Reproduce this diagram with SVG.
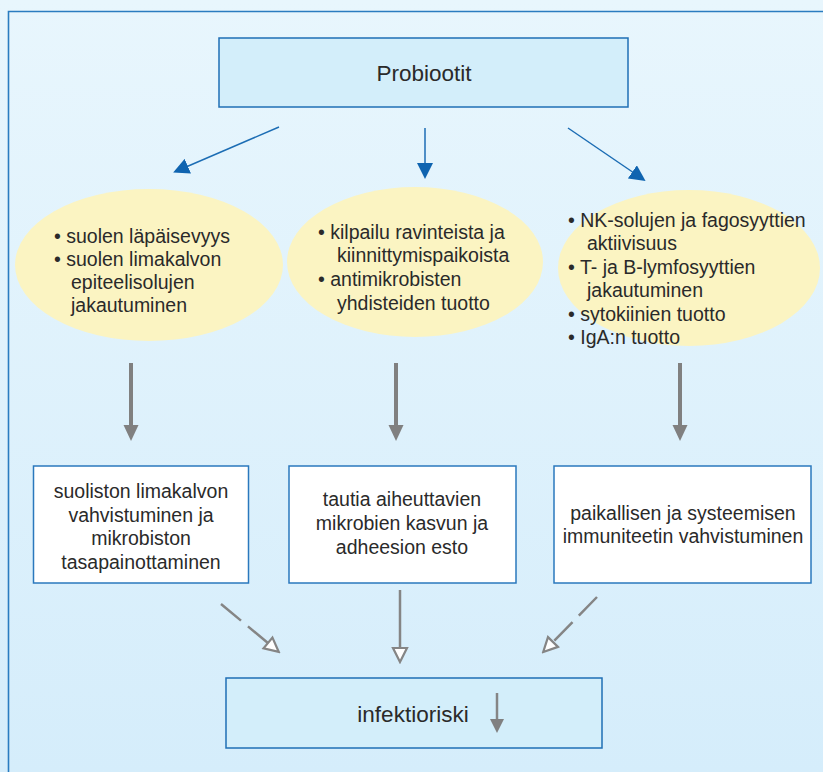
<svg xmlns="http://www.w3.org/2000/svg" width="823" height="772" viewBox="0 0 823 772">
<style>
text{font-family:"Liberation Sans",Arial,sans-serif;fill:#2a2a2a;}
.t{font-size:19.5px;}
.c{text-anchor:middle;}
.big{font-size:22.5px;}
.bluebox{fill:#d3eefa;stroke:#1f6fb5;stroke-width:1.5;}
.whitebox{fill:#ffffff;stroke:#2a78bd;stroke-width:1.5;}
.ell{fill:#fbf4c2;}
.blue{stroke:#1c6db4;stroke-width:1.5;fill:none;}
.gthick{stroke:#808080;stroke-width:4;fill:none;}
.gthin{stroke:#858585;stroke-width:2.5;fill:none;}
.dash{stroke-dasharray:26 9;}
</style>
<defs>
<linearGradient id="bg" x1="0" y1="0" x2="0" y2="1">
<stop offset="0" stop-color="#e8f6fd"/>
<stop offset="1" stop-color="#d5edfb"/>
</linearGradient>
<marker id="hb" viewBox="0 0 16 16" refX="2" refY="8" markerWidth="16" markerHeight="16" markerUnits="userSpaceOnUse" orient="auto">
<path d="M0,0 L16,8 L0,16 z" fill="#0f64b0"/>
</marker>
<marker id="hg" viewBox="0 0 16 16" refX="0" refY="8" markerWidth="16" markerHeight="16" markerUnits="userSpaceOnUse" orient="auto">
<path d="M0,0.5 L16,8 L0,15.5 z" fill="#808080"/>
</marker>
<marker id="ho" viewBox="-2 -2 18 18" refX="0" refY="7" markerWidth="18" markerHeight="18" markerUnits="userSpaceOnUse" orient="auto">
<path d="M0,0 L14,7 L0,14 z" fill="#ffffff" stroke="#858585" stroke-width="2.2"/>
</marker>
<marker id="hs" viewBox="0 0 14 14" refX="0" refY="7" markerWidth="14" markerHeight="14" markerUnits="userSpaceOnUse" orient="auto">
<path d="M0,0 L14,7 L0,14 z" fill="#808080"/>
</marker>
</defs>
<rect x="0" y="0" width="823" height="772" fill="url(#bg)"/>
<path d="M8.5,772 L8.5,11.5 L823,11.5" fill="none" stroke="#2a7cc0" stroke-width="1.6"/>

<g id="probiootit">
<rect class="bluebox" x="219" y="38" width="409" height="69"/>
<text class="big c" x="424" y="81">Probiootit</text>
</g>

<g id="ellipse-left">
<ellipse class="ell" cx="149" cy="265" rx="134" ry="76"/>
<text class="t" x="54" y="243">• suolen läpäisevyys</text>
<text class="t" x="54" y="266">• suolen limakalvon</text>
<text class="t" x="71" y="289">epiteelisolujen</text>
<text class="t" x="71" y="312">jakautuminen</text>
</g>

<g id="ellipse-middle">
<ellipse class="ell" cx="415" cy="262" rx="128" ry="75"/>
<text class="t" x="318" y="239">• kilpailu ravinteista ja</text>
<text class="t" x="337" y="262">kiinnittymispaikoista</text>
<text class="t" x="318" y="286">• antimikrobisten</text>
<text class="t" x="337" y="310">yhdisteiden tuotto</text>
</g>

<g id="ellipse-right">
<ellipse class="ell" cx="689" cy="268" rx="131" ry="78"/>
<text class="t" x="568" y="227">• NK-solujen ja fagosyyttien</text>
<text class="t" x="587" y="250">aktiivisuus</text>
<text class="t" x="568" y="274">• T- ja B-lymfosyyttien</text>
<text class="t" x="587" y="297">jakautuminen</text>
<text class="t" x="568" y="321">• sytokiinien tuotto</text>
<text class="t" x="568" y="344">• IgA:n tuotto</text>
</g>

<g id="box-left">
<rect class="whitebox" x="33.5" y="466" width="215" height="117"/>
<text class="t c" x="141" y="498">suoliston limakalvon</text>
<text class="t c" x="141" y="522">vahvistuminen ja</text>
<text class="t c" x="141" y="545">mikrobiston</text>
<text class="t c" x="141" y="569">tasapainottaminen</text>
</g>

<g id="box-middle">
<rect class="whitebox" x="289" y="466" width="227" height="117"/>
<text class="t c" x="402" y="506">tautia aiheuttavien</text>
<text class="t c" x="402" y="530">mikrobien kasvun ja</text>
<text class="t c" x="402" y="554">adheesion esto</text>
</g>

<g id="box-right">
<rect class="whitebox" x="554" y="466" width="257" height="117"/>
<text class="t c" x="683" y="520">paikallisen ja systeemisen</text>
<text class="t c" x="683" y="543">immuniteetin vahvistuminen</text>
</g>

<g id="infektioriski">
<rect class="bluebox" x="226" y="678" width="376" height="70"/>
<text class="big c" x="413" y="722">infektioriski</text>
<line class="gthin" x1="497" y1="693" x2="497" y2="719" marker-end="url(#hs)"/>
</g>

<g id="connectors">
<line class="blue" x1="279" y1="127" x2="186" y2="167" marker-end="url(#hb)"/>
<line class="blue" x1="425" y1="128" x2="425" y2="165" marker-end="url(#hb)"/>
<line class="blue" x1="568" y1="128" x2="634" y2="173" marker-end="url(#hb)"/>

<line class="gthick" x1="131" y1="363" x2="131" y2="425" marker-end="url(#hg)"/>
<line class="gthick" x1="396" y1="363" x2="396" y2="425" marker-end="url(#hg)"/>
<line class="gthick" x1="680" y1="363" x2="680" y2="425" marker-end="url(#hg)"/>

<line class="gthin dash" x1="221" y1="604" x2="268" y2="643" marker-end="url(#ho)"/>
<line class="gthin" x1="400" y1="590" x2="400" y2="648" marker-end="url(#ho)"/>
<line class="gthin dash" x1="597" y1="597" x2="553" y2="642" marker-end="url(#ho)"/>
</g>
</svg>
